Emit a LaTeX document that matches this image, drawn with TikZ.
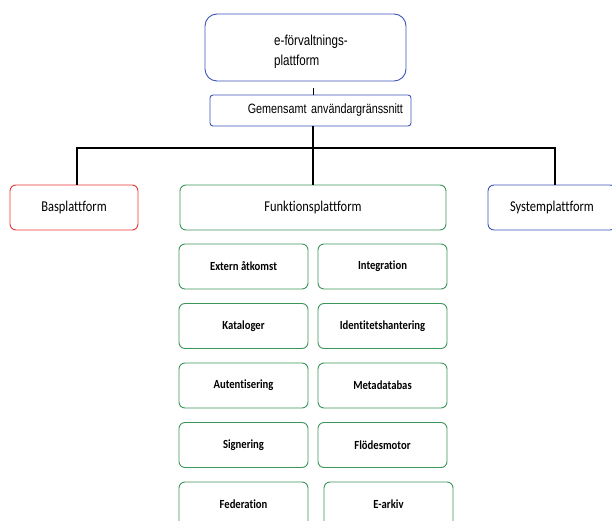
\documentclass[tikz,border=0pt]{standalone}
\usepackage{fontspec}
\setmainfont{Carlito}[Ligatures=CommonOff]
\newfontfamily\platfont{Carlito}[Ligatures=CommonOff,FakeStretch=0.83]
\newfontfamily\funcfont{Carlito}[Ligatures=CommonOff,FakeStretch=0.86]
\newfontfamily\narrowfont{Liberation Sans}[FakeStretch=0.8]
\usetikzlibrary{positioning}
\definecolor{boxblue}{RGB}{60,85,185}
\definecolor{boxred}{RGB}{235,55,55}
\definecolor{boxgreen}{RGB}{60,150,90}

\begin{document}
\begin{tikzpicture}[x=1pt,y=-1pt,node distance=59.5pt,on grid,
		plat/.style={rectangle,rounded corners=6pt,draw,line width=0.9pt,minimum height=45pt,font=\platfont\fontsize{15}{18}\selectfont},
		func/.style={rectangle,rounded corners=6pt,draw=boxgreen,line width=0.9pt,minimum width=129pt,minimum height=45pt,font=\funcfont\fontsize{12.4}{15}\selectfont\bfseries},
		bus/.style={line width=2.2pt}]
		\useasboundingbox (0,0) rectangle (612,521);
		\clip (0,0) rectangle (612,521);
		\node[rectangle,rounded corners=12pt,draw=boxblue,line width=0.9pt,minimum width=201pt,minimum height=67pt] (efp) at (305.5,47.5) {};
		\node[anchor=west,align=left,inner sep=0pt,font=\narrowfont\fontsize{14.5}{20}\selectfont] (efptext) at (274,52) {e-förvaltnings-\\plattform};
		\node[rectangle,rounded corners=3pt,draw=boxblue,line width=0.9pt,minimum width=201pt,minimum height=31pt,text width=185pt,align=right,inner xsep=8pt,font=\narrowfont\fontsize{13.5}{16}\selectfont] (gui) at (310.5,110.5) {Gemensamt användargränssnitt};
		
		\node[plat,draw=boxred,minimum width=128pt]  (bas)  at (74,207.5) {Basplattform};
		\node[plat,draw=boxgreen,minimum width=266pt] (funk) at (313,207.5) {Funktionsplattform};
		\node[plat,draw=boxblue,minimum width=128pt] (sys)  at (552,207.5) {Systemplattform};
		\coordinate (busmid) at (313,148);
		
		\node[func]  (ext)    at (243.5,266.5)        {Extern åtkomst};
		\node[func]  (integ)  [right=139pt of ext]    {Integration};
		\node[func]  (kat)    [below=of ext]          {Kataloger};
		\node[func]  (ident)  [below=of integ]        {Identitetshantering};
		\node[func]  (aut)    [below=of kat]          {Autentisering};
		\node[func]  (meta)   [below=of ident]        {Metadatabas};
		\node[func]  (sign)   [below=of aut]          {Signering};
		\node[func]  (flode)  [below=of meta]         {Flödesmotor};
		\node[func]  (fed)    [below=of sign]         {Federation};
		\node[func]  (earkiv) [below=of flode,xshift=6pt] {E-arkiv};
		
		\draw[line width=0.6pt,shorten <=7pt] (efp.south -| funk.north) -- (gui.north -| funk.north);
		\draw[bus] (gui.south -| funk.north) -- (funk.north);
		\draw[bus] ([xshift=3pt]bas.north) |- (busmid) -| ([xshift=3pt]sys.north);
		
		\end{tikzpicture}
\end{document}
